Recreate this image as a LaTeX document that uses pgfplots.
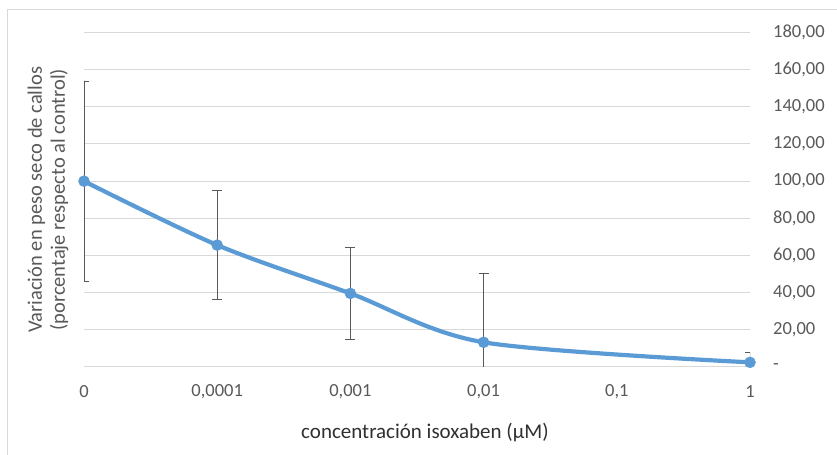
\documentclass[border=0pt]{standalone}
\usepackage{fontspec}
\setmainfont{Carlito}
\usepackage{pgfplots}
\pgfplotsset{compat=1.18}
\definecolor{lineblue}{HTML}{5B9BD5}
\definecolor{gridgray}{HTML}{D9D9D9}
\definecolor{txtgray}{HTML}{595959}
\definecolor{errgray}{HTML}{595959}
\definecolor{titlegray}{HTML}{303030}
\begin{document}
\begin{tikzpicture}
\useasboundingbox (0,0) rectangle (837bp,455bp);
\draw[gridgray, line width=1bp] (7bp,0) -- (7bp,445bp) -- (837bp,445bp);
\begin{axis}[
  at={(84bp,88bp)}, anchor=south west,
  scale only axis, width=666bp, height=334.5bp,
  xmin=0, xmax=5, ymin=0, ymax=180,
  axis line style={draw=none},
  xtick={0,1,2,3,4,5},
  xticklabels={0,{0,0001},{0,001},{0,01},{0,1},1},
  ytick={0,20,40,60,80,100,120,140,160,180},
  yticklabels={-,{20,00},{40,00},{60,00},{80,00},{100,00},{120,00},{140,00},{160,00},{180,00}},
  yticklabel pos=right,
  ymajorgrids, grid style={gridgray, line width=1bp},
  major tick length=0pt,
  tick label style={font=\fontsize{18.5bp}{20bp}\selectfont, text=txtgray},
  xticklabel style={anchor=center, yshift=-25bp},
  yticklabel style={anchor=west, inner sep=0pt, xshift=23bp},
  xlabel={concentración isoxaben (µM)},
  xlabel style={at={(axis description cs:0.512,-0.197)}, anchor=center, font=\fontsize{21bp}{24bp}\selectfont, text=titlegray},
  ylabel={Variación en peso seco de callos\\(porcentaje respecto al control)},
  ylabel style={at={(axis description cs:-0.054,0.5)}, anchor=center, align=center, font=\fontsize{20.5bp}{23bp}\selectfont, text=txtgray},
]
\addplot[lineblue, line width=4.2bp, line join=round, line cap=round, smooth, mark=*, mark size=5.5bp,
  mark options={solid, fill=lineblue, draw=lineblue, line width=0.5bp},
  error bars/.cd, y dir=both, y explicit,
  error bar style={errgray, line width=1bp},
  error mark options={errgray, line width=1bp, mark size=5bp, rotate=90}]
  coordinates {
    (0,100) +- (0,53.8)
    (1,65.6) +- (0,29.2)
    (2,39.6) +- (0,24.7)
    (3,13.3) +- (0,37.0)
    (5,2.5) +- (0,5.2)
  };
\end{axis}
\end{tikzpicture}
\end{document}
